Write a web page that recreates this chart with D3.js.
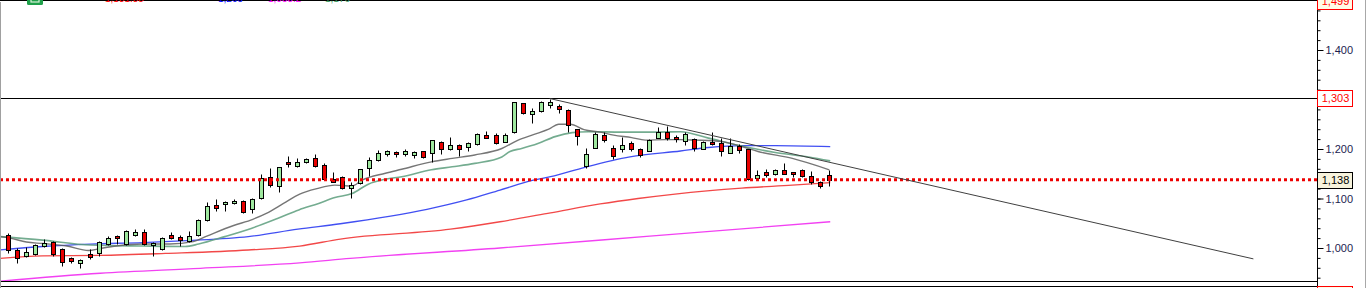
<!DOCTYPE html>
<html>
<head>
<meta charset="utf-8">
<script src="https://cdn.jsdelivr.net/npm/d3@7"></script>
<style>
  body { margin: 0; background: #fff; overflow: hidden; }
  svg { display: block; font-family: "Liberation Sans", Arial, sans-serif; }
</style>
</head>
<body>
<svg></svg>
<script>

// daily candles, index 0 = first visible bar
var opens  = [1026,996,984,987,1005,1012,998,980,970,988,989,1009,1025,1009,1026,1032,1006,997,1026,1022,
              1014,1027,1057,1087,1088,1090,1095,1078,1102,1143,1126,1173,1166,1173,1181,1168,1139,1144,1121,1131,
              1161,1178,1189,1193,1190,1188,1195,1191,1215,1199,1208,1205,1210,1228,1228,1215,1234,1292,1270,1277,
              1289,1287,1279,1240,1166,1203,1228,1203,1200,1213,1201,1196,1223,1235,1224,1217,1220,1201,1215,1213,
              1192,1206,1199,1141,1153,1149,1158,1153,1158,1146,1133,1147];
var highs  = [1030,999,1003,1009,1018,1015,999,982,978,998,1014,1025,1026,1036,1038,1038,1013,1023,1032,1026,
              1035,1059,1093,1100,1094,1100,1097,1101,1150,1161,1164,1186,1181,1181,1189,1171,1153,1145,1134,1160,
              1184,1198,1198,1195,1200,1195,1196,1219,1216,1224,1210,1215,1232,1237,1232,1232,1295,1293,1282,1297,
              1302,1291,1281,1241,1203,1234,1234,1208,1225,1217,1203,1220,1245,1246,1228,1235,1222,1217,1235,1222,
              1222,1210,1201,1158,1160,1160,1172,1154,1160,1156,1135,1158];
var lows   = [989,970,982,986,1003,984,964,969,960,978,984,1007,1008,1007,1025,1007,984,996,1018,1005,
              1013,1025,1055,1075,1075,1089,1071,1070,1100,1124,1114,1163,1163,1171,1163,1137,1133,1119,1102,1129,
              1146,1176,1186,1184,1186,1182,1181,1173,1190,1198,1186,1195,1208,1222,1210,1214,1233,1270,1252,1275,
              1282,1272,1235,1208,1162,1202,1215,1180,1193,1196,1183,1195,1222,1218,1214,1208,1195,1200,1209,1186,
              1191,1191,1137,1139,1144,1147,1149,1144,1144,1129,1122,1126];
var closes = [996,979,991,1007,1011,988,972,974,976,981,1012,1021,1020,1034,1032,1009,1011,1021,1021,1017,
              1024,1057,1085,1081,1093,1095,1072,1100,1141,1127,1163,1169,1173,1179,1165,1139,1134,1121,1127,1159,
              1178,1191,1195,1189,1196,1193,1183,1218,1201,1208,1199,1212,1230,1223,1213,1228,1294,1272,1277,1294,
              1294,1281,1248,1227,1189,1230,1218,1186,1208,1200,1188,1218,1235,1223,1220,1230,1203,1215,1210,1195,
              1206,1198,1139,1147,1147,1158,1150,1149,1146,1133,1125,1138];

// moving averages: [bar index, value]
var maGray = [[-0.9,1023],[0.2,1020],[2,1012],[3.8,1009],[6.5,1004],[8.9,995],[10.2,999],[12,1004],[14.9,1008],
              [17.9,1008],[20.5,1013],[22,1024],[24.9,1045],[27.1,1058],[28.6,1070],[30.5,1090],[32.3,1109],
              [34.2,1120],[36.2,1127],[38.1,1125],[39.2,1137],[41.8,1151],[43.6,1159],[46.9,1174],[49.2,1181],
              [51.7,1188],[54.7,1201],[56.4,1217],[58.2,1229],[59.9,1240],[61,1250],[62.3,1250],[63.8,1239],
              [65.6,1234],[67.1,1228],[69.1,1223],[70.6,1218],[72.8,1219],[74.5,1219],[76.1,1218],[79.1,1215],
              [81.3,1205],[83.1,1195],[86.9,1181],[91,1158]];
var maGreen = [[-0.9,1023],[3.8,1016],[9.1,1006],[14.9,1004],[19.6,1003],[21.1,1008],[24,1023],[27,1040],
               [29.9,1060],[32.2,1077],[34.4,1090],[36.2,1102],[38.1,1110],[39.9,1129],[41.8,1139],[43.6,1144],
               [46.9,1158],[49.2,1164],[51.7,1171],[54.7,1184],[55.6,1195],[56.9,1201],[58.7,1211],[60.6,1225],
               [62.5,1233],[64.3,1235],[68,1234],[71.7,1234],[74.5,1235],[77.6,1222],[81.3,1206],[85,1193],
               [88.7,1184],[91.1,1176]];
var maBlue = [[-0.9,996],[3.8,1003],[9.1,1008],[14.9,1011],[19.8,1015],[26.6,1023],[32.1,1038],[36.8,1049],
              [46.4,1078],[50.8,1097],[54.5,1117],[58.2,1137],[60.1,1144],[63.9,1163],[68.9,1184],[74.5,1196],
              [77.6,1203],[81.3,1207],[85,1207],[91.1,1205]];
var maRed = [[-0.9,979],[3.8,984],[10.2,985],[17.4,989],[26.6,996],[32.3,1004],[36.8,1018],[49,1038],
             [54.5,1053],[60.1,1071],[65.6,1089],[69.8,1100],[73.9,1109],[81.3,1121],[86.9,1127],[91.1,1132]];
var maMagenta = [[-0.9,933],[10.2,949],[21.3,959],[32.3,970],[37.9,979],[54.5,1000],[71.1,1024],[91.1,1053]];

var trendLine = [[60,1302],[138,978]];
var resistanceLevel = 1303;
var lastPrice = 1138;

var majorTicks = [1000, 1100, 1200, 1300, 1400, 1500];
var minorTicks = d3.range(940, 1501, 20);
var priceBoxes = [
    { value: 1499, stroke: '#ff0000', fill: '#fffbe6', color: '#ff0000' },
    { value: 1303, stroke: '#ff0000', fill: '#ffffff', color: '#ff0000' },
    { value: 1138, stroke: '#000000', fill: '#f7f3dc', color: '#000000' }
];
var legendItems = [
    { label: '1,131.85', color: '#ff0000', x: 105 },
    { label: '1,205', color: '#0000ff', x: 218 },
    { label: '1,053.2', color: '#ff00ff', x: 268 },
    { label: '1,176', color: '#3c9c64', x: 325 }
];

document.addEventListener("DOMContentLoaded", (event) => {
    drawChart();
});

function drawChart() {
    var svgWidth = 1366, svgHeight = 288;
    var plotRight = 1317, plotBottom = 281.5;

    var svg = d3.select('svg')
        .attr('width', svgWidth)
        .attr('height', svgHeight);

    var x = d3.scaleLinear().domain([-0.92, 145.05]).range([0, plotRight]);
    var y = d3.scaleLinear().domain([1000, 1400]).range([248, 50]);

    svg.append('defs').append('clipPath')
        .attr('id', 'plot')
        .append('rect')
        .attr('x', 0).attr('y', 1)
        .attr('width', plotRight).attr('height', plotBottom - 1);

    var plot = svg.append('g').attr('clip-path', 'url(#plot)');

    // moving averages
    var line = d3.line()
        .x((d) => { return x(d[0]) })
        .y((d) => { return y(d[1]) })
        .curve(d3.curveMonotoneX);

    var maStyles = [
        { data: maMagenta, color: '#f020f0', width: 1.3 },
        { data: maRed, color: '#f02828', width: 1.3 },
        { data: maBlue, color: '#2030f0', width: 1.3 },
        { data: maGreen, color: '#5c9e7c', width: 1.6 },
        { data: maGray, color: '#5e5e5e', width: 1.4 }
    ];
    maStyles.forEach((m) => {
        plot.append('path')
            .datum(m.data)
            .attr('fill', 'none')
            .attr('stroke', m.color)
            .attr('stroke-opacity', 0.85)
            .attr('stroke-width', m.width)
            .attr('d', line);
    });

    // candles
    var idx = d3.range(opens.length);
    var cx = (i) => { return Math.round(x(i)) };
    var py = (v) => { return Math.round(y(v)) + 0.5 };

    var candles = plot.append('g');
    candles.selectAll('line.wick')
        .data(idx).enter().append('line')
        .attr('class', 'wick')
        .attr('x1', (i) => cx(i) + 0.5).attr('x2', (i) => cx(i) + 0.5)
        .attr('y1', (i) => py(highs[i])).attr('y2', (i) => py(lows[i]))
        .attr('stroke', '#000')
        .attr('stroke-width', 1);

    candles.selectAll('rect.body')
        .data(idx).enter().append('rect')
        .attr('class', 'body')
        .attr('x', (i) => cx(i) - 1.5)
        .attr('width', 4)
        .attr('y', (i) => py(Math.max(opens[i], closes[i])))
        .attr('height', (i) => Math.max(2, py(Math.min(opens[i], closes[i])) - py(Math.max(opens[i], closes[i]))))
        .attr('fill', (i) => closes[i] >= opens[i] ? '#9fe89f' : '#e80000')
        .attr('stroke', '#000')
        .attr('stroke-width', 1);

    // levels and trend line
    plot.append('line')
        .attr('x1', 0).attr('x2', plotRight)
        .attr('y1', py(resistanceLevel)).attr('y2', py(resistanceLevel))
        .attr('stroke', '#000').attr('stroke-width', 1);

    plot.append('line')
        .attr('x1', 0).attr('x2', plotRight)
        .attr('y1', y(lastPrice)).attr('y2', y(lastPrice))
        .attr('stroke', '#ee0000').attr('stroke-width', 3)
        .attr('stroke-dasharray', '3,3');

    plot.append('path')
        .datum(trendLine)
        .attr('fill', 'none')
        .attr('stroke', '#404040')
        .attr('stroke-width', 1)
        .attr('d', d3.line().x((d) => x(d[0])).y((d) => y(d[1])));

    // frame
    var frame = svg.append('g').attr('stroke-width', 1).attr('shape-rendering', 'crispEdges');
    frame.append('line').attr('x1', 0).attr('x2', plotRight).attr('y1', 0.5).attr('y2', 0.5).attr('stroke', '#000');
    frame.append('line').attr('x1', 0).attr('x2', plotRight).attr('y1', plotBottom).attr('y2', plotBottom).attr('stroke', '#000');
    frame.append('line').attr('x1', 0).attr('x2', plotRight).attr('y1', 286.5).attr('y2', 286.5).attr('stroke', '#000');
    frame.append('line').attr('x1', 0.5).attr('x2', 0.5).attr('y1', 2).attr('y2', svgHeight).attr('stroke', '#a0a0a0');
    frame.append('line').attr('x1', 1365.5).attr('x2', 1365.5).attr('y1', 0).attr('y2', svgHeight).attr('stroke', '#a8a8a8');

    // right price axis; labels under a price box are left out
    var covered = priceBoxes.map((b) => Math.round(b.value / 100) * 100);
    var axisG = svg.append('g')
        .attr('transform', 'translate(' + (plotRight + 0.5) + ',0)');

    axisG.append('g')
        .call(d3.axisRight(y).tickValues(minorTicks).tickSize(3).tickFormat(''))
        .call((g) => g.select('.domain').remove());

    axisG.append('g')
        .call(d3.axisRight(y).tickValues(majorTicks).tickSize(6).tickPadding(2)
            .tickFormat((d) => covered.indexOf(d) >= 0 && d !== 1100 ? '' : d3.format(',')(d)))
        .call((g) => g.select('.domain').remove())
        .selectAll('text')
        .attr('fill', '#1c1c50')
        .style('font-size', '11px');

    axisG.append('line')
        .attr('x1', 0).attr('x2', 0).attr('y1', 0).attr('y2', svgHeight)
        .attr('stroke', '#000');

    var boxes = axisG.selectAll('g.pbox')
        .data(priceBoxes).enter().append('g')
        .attr('class', 'pbox')
        .attr('transform', (d) => 'translate(0,' + Math.round(y(d.value)) + ')');
    boxes.append('rect')
        .attr('x', 0).attr('y', -7.5)
        .attr('width', 35).attr('height', 16)
        .attr('fill', (d) => d.fill)
        .attr('stroke', (d) => d.stroke);
    boxes.append('text')
        .attr('x', 18).attr('y', 0.5)
        .attr('dy', '0.35em')
        .attr('text-anchor', 'middle')
        .attr('fill', (d) => d.color)
        .style('font-size', '11px')
        .text((d) => d3.format(',')(d.value));

    // box of the panel below
    axisG.append('rect')
        .attr('x', 0).attr('y', 286.5)
        .attr('width', 35).attr('height', 12)
        .attr('fill', '#fffbe6').attr('stroke', '#ff0000');

    // legend row, mostly above the visible area
    svg.append('rect')
        .attr('x', 27).attr('y', -10)
        .attr('width', 16).attr('height', 15)
        .attr('rx', 1.5)
        .attr('fill', '#1fa04a');
    svg.append('rect')
        .attr('x', 31).attr('y', -4)
        .attr('width', 8).attr('height', 6)
        .attr('fill', 'none')
        .attr('stroke', '#d8f0d8')
        .attr('stroke-width', 1.2);

    svg.selectAll('text.legend')
        .data(legendItems).enter().append('text')
        .attr('class', 'legend')
        .attr('x', (d) => d.x).attr('y', 1.5)
        .attr('fill', (d) => d.color)
        .style('font-size', '10px')
        .text((d) => d.label);
}
</script>
</body>
</html>
